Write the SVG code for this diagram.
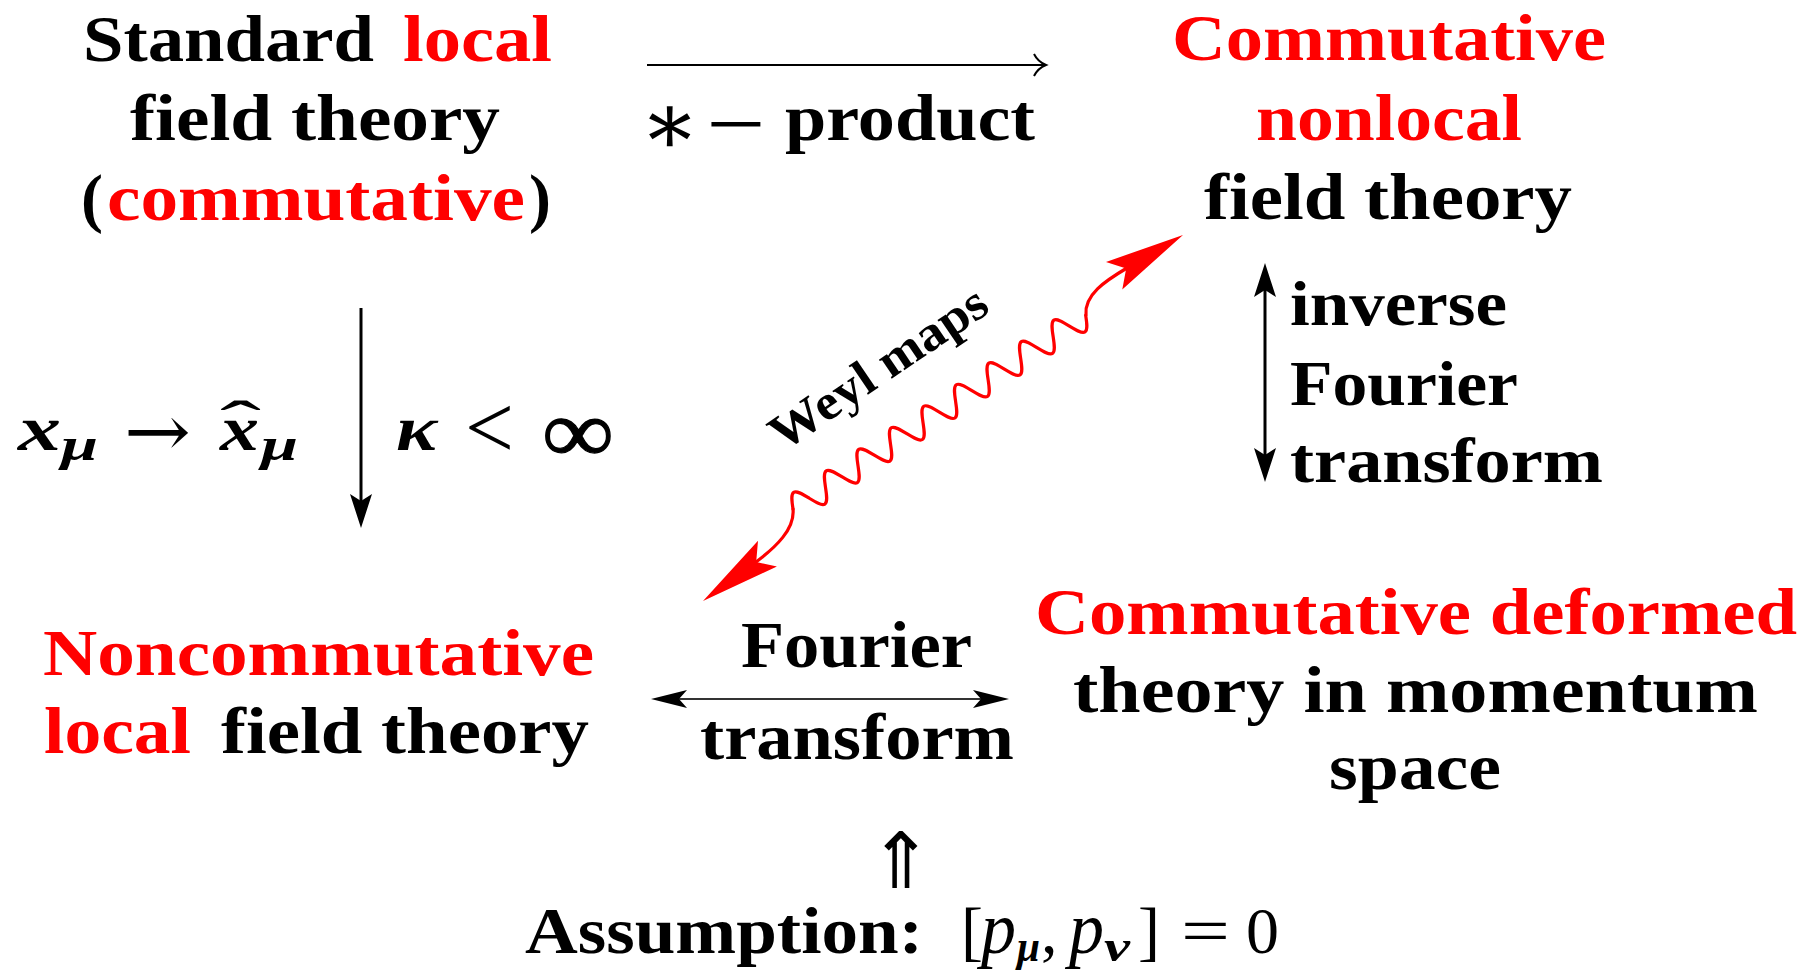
<svg xmlns="http://www.w3.org/2000/svg" xmlns:xlink="http://www.w3.org/1999/xlink" width="1810" height="971" viewBox="0 0 1810 971">
<style>
.t{font-family:"Liberation Serif","Times New Roman",serif;font-weight:bold;fill:#000}
.r{fill:#ff0000}
.m{font-family:"Liberation Serif","Times New Roman",serif;font-weight:bold;font-style:italic;fill:#000}
.n{font-family:"Liberation Serif","DejaVu Serif",serif;font-weight:normal;fill:#000}
.dj{font-family:"DejaVu Serif",serif;font-weight:normal;fill:#000}
.djs{font-family:"DejaVu Sans",sans-serif;font-weight:normal;fill:#000}
.ln{stroke:#000;stroke-width:3;fill:none}
.wv{stroke:#ff0000;stroke-width:3.2;fill:none;stroke-linecap:round;stroke-linejoin:round}
</style>
<defs>
<polygon id="bh" points="0,0 -34,-11 -27,0 -34,11" fill="#000"/>
<polygon id="th" points="0,0 -36,-9 -28,0 -36,9" fill="#000"/>
<polygon id="rh" points="0,0 -80,-16 -66,0 -80,16" fill="#ff0000"/>
</defs>
<rect width="1810" height="971" fill="#fff"/>

<g id="node-standard-local" font-size="66">
<text class="t" x="83" y="61" textLength="291" lengthAdjust="spacingAndGlyphs">Standard</text>
<text class="t r" x="403" y="61" textLength="149" lengthAdjust="spacingAndGlyphs">local</text>
<text class="t" x="130" y="140" textLength="370" lengthAdjust="spacingAndGlyphs">field theory</text>
<text class="t" x="81" y="220">(</text>
<text class="t r" x="107" y="220" textLength="418" lengthAdjust="spacingAndGlyphs">commutative</text>
<text class="t" x="529" y="220">)</text>
</g>

<g id="node-commutative-nonlocal" font-size="66">
<text class="t r" x="1172" y="60" textLength="434" lengthAdjust="spacingAndGlyphs">Commutative</text>
<text class="t r" x="1256" y="140" textLength="266" lengthAdjust="spacingAndGlyphs">nonlocal</text>
<text class="t" x="1204" y="219" textLength="368" lengthAdjust="spacingAndGlyphs">field theory</text>
</g>

<g id="node-noncommutative-local" font-size="66">
<text class="t r" x="43" y="675" textLength="551" lengthAdjust="spacingAndGlyphs">Noncommutative</text>
<text class="t r" x="44" y="753" textLength="147" lengthAdjust="spacingAndGlyphs">local</text>
<text class="t" x="221" y="753" textLength="368" lengthAdjust="spacingAndGlyphs">field theory</text>
</g>

<g id="node-commutative-deformed" font-size="66">
<text class="t r" x="1035" y="634" textLength="762" lengthAdjust="spacingAndGlyphs">Commutative deformed</text>
<text class="t" x="1073" y="712" textLength="685" lengthAdjust="spacingAndGlyphs">theory in momentum</text>
<text class="t" x="1329" y="789" textLength="172" lengthAdjust="spacingAndGlyphs">space</text>
</g>

<g id="node-assumption" font-size="66">
<text class="djs" x="901" y="888" font-size="78" text-anchor="middle">⇑</text>
<text class="t" x="525" y="953" textLength="398" lengthAdjust="spacingAndGlyphs">Assumption:</text>
<text class="n" x="961" y="953" font-size="66">[</text>
<text class="n" x="981" y="953" font-size="74" font-style="italic" textLength="35" lengthAdjust="spacingAndGlyphs">p</text>
<text class="m" x="1017" y="961" font-size="44" textLength="23" lengthAdjust="spacingAndGlyphs">μ</text>
<text class="n" x="1041" y="953" font-size="66">,</text>
<text class="n" x="1069" y="953" font-size="74" font-style="italic" textLength="35" lengthAdjust="spacingAndGlyphs">p</text>
<text class="m" x="1104" y="961" font-size="44" textLength="26" lengthAdjust="spacingAndGlyphs">ν</text>
<text class="n" x="1138" y="953" font-size="66">]</text>
<text class="n" x="1181" y="953" font-size="66" textLength="49" lengthAdjust="spacingAndGlyphs">=</text>
<text class="n" x="1246" y="953" font-size="66" textLength="33" lengthAdjust="spacingAndGlyphs">0</text>
</g>

<g id="connectors">
<g id="star-product-arrow" font-size="66">
<line x1="647" y1="65" x2="1045" y2="65" stroke="#000" stroke-width="2"/>
<path d="M1034,54 C1037,60 1041,63 1046,65 C1041,67 1037,70 1034,76" stroke="#000" stroke-width="2" fill="none"/>
<text class="n" x="670" y="154" font-size="88" text-anchor="middle">∗</text>
<text class="t" x="706" y="146" textLength="60" lengthAdjust="spacingAndGlyphs">−</text>
<text class="t" x="785" y="140" textLength="250" lengthAdjust="spacingAndGlyphs">product</text>
</g>
<g id="kappa-arrow">
<line class="ln" x1="361" y1="308" x2="361" y2="503"/>
<use xlink:href="#bh" transform="translate(361,528) rotate(90)"/>
<text class="m" x="18" y="450" font-size="64" textLength="43" lengthAdjust="spacingAndGlyphs">x</text>
<text class="m" x="61" y="460" font-size="46" textLength="37" lengthAdjust="spacingAndGlyphs">μ</text>
<text class="dj" x="124" y="456" font-size="72" textLength="67" lengthAdjust="spacingAndGlyphs">→</text>
<text class="m" x="220" y="450" font-size="64" textLength="39" lengthAdjust="spacingAndGlyphs">x</text>
<text class="n" x="220" y="445" font-size="64" textLength="41" lengthAdjust="spacingAndGlyphs">ˆ</text>
<text class="m" x="261" y="460" font-size="46" textLength="37" lengthAdjust="spacingAndGlyphs">μ</text>
<text class="m" x="396" y="450" font-size="64" textLength="41" lengthAdjust="spacingAndGlyphs">κ</text>
<text class="n" x="465" y="458" font-size="90" textLength="49" lengthAdjust="spacingAndGlyphs">&lt;</text>
<text class="t" x="543" y="462" font-size="90" textLength="70" lengthAdjust="spacingAndGlyphs" stroke="#000" stroke-width="1.2">∞</text>
</g>
<g id="weyl-arrow">
<path class="wv" d="M756,562 C776,547 795,529 793,509"/>
<path class="wv" transform="translate(793,509) rotate(-33.5)" d="M0,0 c3.18,-6.9 6.22,-13.5 9.75,-13.5 s6.57,6.6 9.75,13.5 s6.22,13.5 9.75,13.5 s6.57,-6.6 9.75,-13.5 s6.22,-13.5 9.75,-13.5 s6.57,6.6 9.75,13.5 s6.22,13.5 9.75,13.5 s6.57,-6.6 9.75,-13.5 s6.22,-13.5 9.75,-13.5 s6.57,6.6 9.75,13.5 s6.22,13.5 9.75,13.5 s6.57,-6.6 9.75,-13.5 s6.22,-13.5 9.75,-13.5 s6.57,6.6 9.75,13.5 s6.22,13.5 9.75,13.5 s6.57,-6.6 9.75,-13.5 s6.22,-13.5 9.75,-13.5 s6.57,6.6 9.75,13.5 s6.22,13.5 9.75,13.5 s6.57,-6.6 9.75,-13.5 s6.22,-13.5 9.75,-13.5 s6.57,6.6 9.75,13.5 s6.22,13.5 9.75,13.5 s6.57,-6.6 9.75,-13.5 s6.22,-13.5 9.75,-13.5 s6.57,6.6 9.75,13.5 s6.22,13.5 9.75,13.5 s6.57,-6.6 9.75,-13.5 s6.22,-13.5 9.75,-13.5 s6.57,6.6 9.75,13.5 s6.22,13.5 9.75,13.5 s6.57,-6.6 9.75,-13.5 s6.22,-13.5 9.75,-13.5 s6.57,6.6 9.75,13.5 s6.22,13.5 9.75,13.5 s6.57,-6.6 9.75,-13.5"/>
<path class="wv" d="M1086,315 C1084,295 1105,281 1127,268"/>
<use xlink:href="#rh" transform="translate(703,601) rotate(143.7)"/>
<use xlink:href="#rh" transform="translate(1183,235) rotate(-30.6)"/>
<text class="t" font-size="50" transform="translate(783,452) rotate(-34)" textLength="252" lengthAdjust="spacingAndGlyphs">Weyl maps</text>
</g>
<g id="inverse-fourier-arrow" font-size="63">
<line class="ln" x1="1265" y1="289" x2="1265" y2="456"/>
<use xlink:href="#bh" transform="translate(1265,263) rotate(-90)"/>
<use xlink:href="#bh" transform="translate(1265,482) rotate(90)"/>
<text class="t" x="1290" y="325" textLength="217" lengthAdjust="spacingAndGlyphs">inverse</text>
<text class="t" x="1290" y="405" textLength="228" lengthAdjust="spacingAndGlyphs">Fourier</text>
<text class="t" x="1290" y="482" textLength="313" lengthAdjust="spacingAndGlyphs">transform</text>
</g>
<g id="fourier-arrow" font-size="66">
<line x1="677" y1="699" x2="983" y2="699" stroke="#333" stroke-width="2"/>
<use xlink:href="#th" transform="translate(651,699) rotate(180)"/>
<use xlink:href="#th" transform="translate(1009,699)"/>
<text class="t" x="741" y="667" textLength="231" lengthAdjust="spacingAndGlyphs">Fourier</text>
<text class="t" x="700" y="759" textLength="314" lengthAdjust="spacingAndGlyphs">transform</text>
</g>
</g>
</svg>
